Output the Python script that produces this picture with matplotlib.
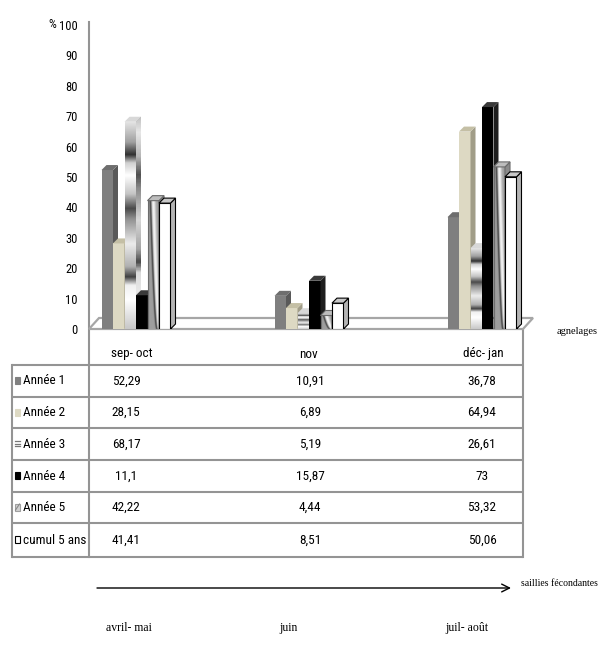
import numpy as np
import matplotlib
matplotlib.use("Agg")
import matplotlib.pyplot as plt
from matplotlib import font_manager
from matplotlib.patches import Polygon, Rectangle
from matplotlib.colors import LinearSegmentedColormap

# ---- data ----
categories = ["sep- oct", "nov", "déc- jan"]
series = ["Année 1", "Année 2", "Année 3", "Année 4", "Année 5", "cumul 5 ans"]
annee1 = [52.29, 10.91, 36.78]
annee2 = [28.15, 6.89, 64.94]
annee3 = [68.17, 5.19, 26.61]
annee4 = [11.1, 15.87, 73]
annee5 = [42.22, 4.44, 53.32]
cumul = [41.41, 8.51, 50.06]
values = [annee1, annee2, annee3, annee4, annee5, cumul]
yticks = list(range(0, 101, 10))
saillies = ["avril- mai", "juin", "juil- août"]

# pick the narrowest sans family that is installed
installed = {f.name for f in font_manager.fontManager.ttflist}
narrow_pref = ["Liberation Sans Narrow", "Roboto Condensed", "DejaVu Sans Condensed",
               "Open Sans Condensed", "Roboto", "Liberation Sans"]
NARROW = [f for f in narrow_pref if f in installed][:1] + ["DejaVu Sans"]
SERIF = ["Liberation Serif", "DejaVu Serif"]

W, H = 600, 658
fig = plt.figure(figsize=(W / 100, H / 100), dpi=100)

# overlay in pixel units for table, arrow and annotations
ov = fig.add_axes([0, 0, 1, 1])
ov.set_xlim(0, W)
ov.set_ylim(H, 0)
ov.axis("off")

# chart axes
PX_STEP = 173.0          # pixels between category groups
PX_UNIT = 3.04           # pixels per percent
x_lo = (89 - 136) / PX_STEP
x_hi = (523 - 136) / PX_STEP
ax = fig.add_axes([89 / W, 1 - 329 / H, (523 - 89) / W, (329 - 25) / H])
ax.patch.set_visible(False)
for s in ax.spines.values():
    s.set_visible(False)

bw = 11.5 / PX_STEP      # bar width
ddx = 5 / PX_STEP        # 3D depth (x)
ddy = 5 / PX_UNIT        # 3D depth (y)

# floor
fdx, fdy = 10 / PX_STEP, 11 / PX_UNIT
floor = Polygon([(x_lo, 0), (x_hi, 0), (x_hi + fdx, fdy), (x_lo + fdx, fdy)],
                closed=True, facecolor="white", edgecolor="#a6a6a6", lw=1.6,
                clip_on=False, zorder=1)
ax.add_patch(floor)

# chrome gradient for Année 3
chrome_stops = [(0.0, "#c8c8c8"), (0.14, "#ffffff"), (0.21, "#f0f0f0"),
                (0.25, "#404040"), (0.30, "#b0b0b0"), (0.41, "#ececec"),
                (0.53, "#909090"), (0.58, "#4a4a4a"), (0.65, "#c4c4c4"),
                (0.74, "#ffffff"), (0.80, "#d0d0d0"), (0.84, "#303030"),
                (0.90, "#a0a0a0"), (1.0, "#e6e6e6")]
chrome = LinearSegmentedColormap.from_list("chrome", chrome_stops)
chrome_grad = np.linspace(0, 1, 256)[::-1].reshape(-1, 1)

# twisted-ribbon texture for Année 5
uu, vv = np.meshgrid(np.linspace(0, 1, 40), np.linspace(1, 0, 200))
c1 = 0.75 - 0.55 * vv ** 0.6
rib = 0.62 + 0.33 * np.exp(-((uu - (c1 + 0.25)) / 0.18) ** 2)
rib -= 0.40 * np.exp(-((uu - c1) / 0.08) ** 2)
rib -= 0.25 * np.exp(-((uu - 0.02) / 0.05) ** 2)
rib = np.clip(rib, 0, 1)

front_cols = ["#7f7f7f", "#ddd9c3", "none", "#000000", "none", "#ffffff"]
side_cols = ["#595959", "#a19d88", "#6a6a6a", "#1e1e1e", "#8a8a8a", "#b4b4b4"]
top_cols = ["#6e6e6e", "#c4bfa5", "#d8d8d8", "#3a3a3a", "#bdbdbd", "#c8c8c8"]
edge_cols = ["none", "none", "none", "none", "#6a6a6a", "#000000"]

cat_x = np.arange(len(categories))
for i, vals in enumerate(values):
    z = 2 + i * 0.1
    lefts = cat_x - 3 * bw + i * bw
    bars = ax.bar(lefts, vals, width=bw, align="edge", color=front_cols[i],
                  edgecolor=edge_cols[i], lw=0.8, zorder=z)
    for rect, x0, v in zip(bars.patches, lefts, vals):
        if i == 2:
            im = ax.imshow(chrome_grad, cmap=chrome, aspect="auto",
                           extent=[x0, x0 + bw, 0, v], zorder=z)
            im.set_clip_path(rect)
        if i == 4:
            im = ax.imshow(rib, cmap="gray", vmin=0, vmax=1, aspect="auto",
                           extent=[x0, x0 + bw, 0, v], zorder=z)
            im.set_clip_path(rect)
        side = Polygon([(x0 + bw, 0), (x0 + bw + ddx, ddy), (x0 + bw + ddx, v + ddy),
                        (x0 + bw, v)], closed=True, facecolor=side_cols[i],
                       edgecolor=edge_cols[i], lw=0.8, zorder=z + 0.01)
        top = Polygon([(x0, v), (x0 + ddx, v + ddy), (x0 + bw + ddx, v + ddy),
                       (x0 + bw, v)], closed=True, facecolor=top_cols[i],
                      edgecolor=edge_cols[i], lw=0.8, zorder=z + 0.02)
        ax.add_patch(side)
        ax.add_patch(top)
        if i == 2:
            im2 = ax.imshow(chrome_grad * 0.8, cmap=chrome, vmin=0, vmax=1,
                            aspect="auto", extent=[x0 + bw, x0 + bw + ddx, 0, v + ddy],
                            zorder=z + 0.015, alpha=0.85)
            im2.set_clip_path(side)

ax.set_xlim(x_lo, x_hi)
ax.set_ylim(0, 100)
ax.set_xticks([])
ax.set_yticks(yticks)
ax.set_yticklabels([str(t) for t in yticks], family=NARROW, fontsize=9)
ax.tick_params(axis="y", length=0, pad=8)

# "%" marker next to the top tick
ov.text(52, 24, "%", family=NARROW, fontsize=9, ha="center", va="center")

# ---- data table ----
grid = "#949494"
row_lines = [365, 397, 428, 460, 492, 523, 557]
for y in row_lines:
    ov.plot([12, 523], [y, y], color=grid, lw=1.5, solid_capstyle="butt")
ov.plot([12, 12], [365, 557], color=grid, lw=1.5)
ov.plot([89, 89], [22, 557], color=grid, lw=1.5)
ov.plot([523, 523], [329, 557], color=grid, lw=1.5)

head_x = [132, 308, 483]
val_x = [126, 310, 482]
for x, c in zip(head_x, categories):
    ov.text(x, 354, c, family=NARROW, fontsize=9.5, ha="center", va="center")

row_c = [(a + b) / 2 for a, b in zip(row_lines[:-1], row_lines[1:])]
icon_face = ["#808080", "#ddd9c3", "white", "#000000", "#d0d0d0", "white"]
icon_edge = ["#808080", "#ddd9c3", "white", "#000000", "#a0a0a0", "#000000"]
for j, (name, vals) in enumerate(zip(series, values)):
    yc = row_c[j]
    ov.add_patch(Rectangle((15, yc - 4), 5, 7, facecolor=icon_face[j],
                           edgecolor=icon_edge[j], lw=0.8))
    if j == 2:
        for dy in (-3, -0.5, 2):
            ov.plot([15, 20], [yc + dy, yc + dy], color="#777777", lw=0.9)
    if j == 4:
        ov.plot([15.5, 19.5], [yc + 2.5, yc - 3.5], color="#888888", lw=0.8)
    ov.text(23, yc, name, family=NARROW, fontsize=9.5, ha="left", va="center")
    for x, v in zip(val_x, vals):
        ov.text(x, yc, f"{v:g}".replace(".", ","), family=NARROW, fontsize=9.5,
                ha="center", va="center")

ov.text(577, 332, "agnelages", family=SERIF, fontsize=7.5, ha="center", va="center")

# ---- mating-period axis ----
ov.annotate("", xy=(511, 588), xytext=(97, 588),
            arrowprops=dict(arrowstyle="->", lw=1.0, color="black",
                            shrinkA=0, shrinkB=0, mutation_scale=14))
ov.text(521, 584, "saillies fécondantes", family=SERIF, fontsize=7,
        ha="left", va="center")
for x, s in zip([129, 289, 467], saillies):
    ov.text(x, 628, s, family=SERIF, fontsize=8.5, ha="center", va="center")

fig.savefig("out.png", dpi=100)
